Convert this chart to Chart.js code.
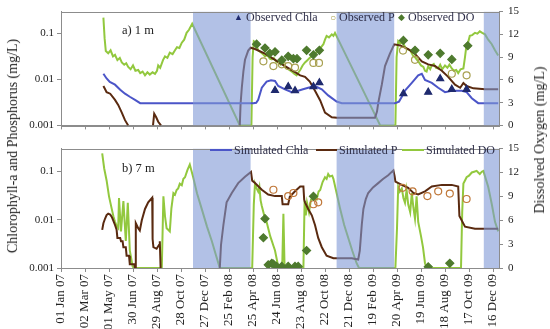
<!DOCTYPE html>
<html>
<head>
<meta charset="utf-8">
<script src="https://cdn.jsdelivr.net/npm/chart.js@4.4.1/dist/chart.umd.min.js"></script>
<style>
  body { margin: 0; background: #fff; }
  #wrap { position: relative; width: 550px; height: 329px; overflow: hidden; font-family: 'Liberation Serif', serif; }
  canvas { position: absolute; left: 0; }
  .vt { position: absolute; white-space: nowrap; font-size: 14px; color: #222;
        transform: translate(-50%, -50%) rotate(-90deg); }
  .lab { position: absolute; white-space: nowrap; font-size: 12.5px; color: #222; transform: translateY(-50%); }
  .leg { position: absolute; white-space: nowrap; font-size: 12px; color: #2e2e48; transform: translateY(-50%); }
  .sw { position: absolute; height: 2px; transform: translateY(-50%); }
</style>
</head>
<body>
<div id="wrap">
  <canvas id="topChart" width="550" height="137" style="top:0"></canvas>
  <canvas id="botChart" width="550" height="192" style="top:137px"></canvas>

  <div class="vt" style="left:13px; top:146px">Chlorophyll-a and Phosphorus (mg/L)</div>
  <div class="vt" style="left:540px; top:140px">Dissolved Oxygen (mg/L)</div>

  <div class="lab" style="left:122px; top:30px">a) 1 m</div>
  <div class="lab" style="left:122px; top:168px">b) 7 m</div>

  <!-- observed legend, panel a -->
  <div class="leg" style="left:234px; top:17px; color:#1f2a6e; font-size:9px">&#9650;</div>
  <div class="leg" style="left:246px; top:17px">Observed Chla</div>
  <div class="leg" style="left:330px; top:17px; color:#a8a050; font-size:10px">&#9675;</div>
  <div class="leg" style="left:339px; top:17px">Observed P</div>
  <div class="leg" style="left:398px; top:17px; color:#4e7a2e; font-size:9px">&#9670;</div>
  <div class="leg" style="left:408px; top:17px">Observed DO</div>

  <!-- simulated legend, panel b -->
  <div class="sw" style="left:210px; top:150px; width:22px; background:#4b55c8"></div>
  <div class="leg" style="left:234px; top:150px">Simulated Chla</div>
  <div class="sw" style="left:316px; top:150px; width:21px; background:#5a2a10"></div>
  <div class="leg" style="left:339px; top:150px">Simulated P</div>
  <div class="sw" style="left:402px; top:150px; width:22px; background:#92c83e"></div>
  <div class="leg" style="left:426px; top:150px">Simulated DO</div>
</div>

<script>
// days counted from 01 Jan 07
const xTicks = [0, 60, 120, 180, 240, 300, 360, 420, 480, 540, 600, 660, 720, 780, 840, 900, 960, 1020, 1080];
const leftTicks = [0.001, 0.01, 0.1];
const icePeriods = [[330, 474], [689, 833], [1057, 1095]];

// ---- a) 1 m ----
const aChlaSim = [[106,0.0133],[114,0.0105],[122,0.0088],[135,0.0077],[148,0.0060],[160,0.0049],[172,0.0042],[185,0.0036],[198,0.00305],
  [481,0.00305],[488,0.0031],[493,0.0036],[502,0.0066],[514,0.0090],[525,0.0096],[535,0.0093],[543,0.0072],[560,0.0061],[577,0.0053],
  [593,0.0057],[605,0.0061],[618,0.0066],[635,0.0072],[652,0.0061],[668,0.0045],[689,0.0033],[702,0.00305],[835,0.00305],[845,0.0033],
  [852,0.0042],[860,0.0057],[877,0.0084],[893,0.0123],[902,0.0133],[910,0.0098],[927,0.0084],[943,0.0066],[960,0.0053],[977,0.0057],
  [1002,0.0057],[1014,0.0053],[1027,0.0039],[1043,0.00305],[1093,0.00305]];
const aPSim = [[106,0.0072],[110,0.0062],[114,0.0053],[123,0.0049],[135,0.0036],[143,0.0028],[152,0.0019],[160,0.0013],[168,0.001],[169,null],
  [230,0.001],[233,0.0018],[238,0.0015],[243,0.0012],[250,0.001],[251,null],
  [447,0.001],[449,0.003],[452,0.0066],[456,0.015],[460,0.0268],[468,0.0425],[474,0.049],[485,0.046],[510,0.0364],[535,0.0268],
  [560,0.0196],[585,0.0144],[598,0.0123],[610,0.0114],[622,0.009],[635,0.0057],[648,0.0035],[660,0.0019],[677,0.0015],[690,0.00147],
  [785,0.00147],[790,0.002],[793,0.00306],[802,0.0077],[810,0.0196],[822,0.036],[833,0.058],[848,0.055],[868,0.046],[885,0.036],
  [902,0.0248],[918,0.0213],[935,0.0196],[952,0.0155],[968,0.0114],[985,0.0077],[998,0.0066],[1006,0.0084],[1014,0.0072],[1031,0.0064],
  [1060,0.0061],[1093,0.0061]];
const aDOSim = [[106,14.2],[109,11.5],[112,9.8],[118,9.5],[124,9.9],[130,9.1],[135,9.3],[141,8.6],[147,8.9],[152,8.3],[158,8.0],[163,8.2],
  [168,7.7],[174,7.4],[180,7.9],[186,7.2],[193,7.3],[198,6.9],[204,7.1],[210,6.6],[216,7.0],[222,6.7],[229,7.0],[235,6.8],[240,7.2],
  [243,7.9],[248,7.6],[255,8.6],[260,9.1],[266,8.9],[272,9.6],[279,9.4],[285,9.9],[290,10.3],[296,10.2],[302,10.9],[308,11.3],[314,12.2],
  [320,12.6],[328,13.4],[447,0],[476,0],[479,9],[482,11.1],[485,11.0],[489,10.5],[493,9.9],[500,9.6],[505,9.4],[510,9.1],[516,9.3],
  [522,8.8],[527,8.7],[532,8.9],[538,8.4],[543,8.3],[549,8.0],[554,8.2],[560,7.7],[565,7.6],[571,7.3],[577,7.1],[583,6.8],[589,6.6],
  [594,7.0],[598,7.3],[604,7.9],[610,8.3],[616,8.6],[622,8.9],[627,9.1],[633,9.4],[638,9.6],[643,9.9],[650,10.3],[656,10.7],[660,11.3],
  [664,11.8],[670,11.6],[677,12.0],[681,11.8],[685,12.2],[798,0],[836,0],[839,9],[843,11.1],[848,10.8],[852,10.9],[856,10.7],[862,10.2],
  [868,10.0],[873,9.9],[880,9.2],[885,9.0],[889,8.7],[895,8.3],[900,7.9],[906,7.7],[910,7.2],[914,7.1],[918,7.8],[923,7.4],[927,7.9],
  [932,8.1],[937,7.6],[943,7.5],[948,8.0],[953,7.4],[960,7.9],[966,7.6],[971,8.0],[977,7.5],[982,7.2],[988,7.3],[993,6.9],[999,7.4],
  [1006,7.5],[1010,9.0],[1014,10.7],[1018,11.0],[1022,11.8],[1028,11.9],[1035,12.2],[1041,12.1],[1047,12.4],[1053,12.2],[1060,12.0],
  [1068,11.3],[1077,10.7],[1085,9.9],[1093,9.2]];
const aChlaObs = [[535,0.0058],[568,0.0070],[585,0.0057],[631,0.0070],[646,0.0085],[856,0.0049],[918,0.0053],[948,0.0104],[977,0.0061],[1014,0.0061]];
const aPObs = [[506,0.0248],[531,0.0196],[552,0.0213],[568,0.0196],[585,0.0181],[631,0.0229],[645,0.0229],[855,0.0425],[885,0.0268],[977,0.0133],[1014,0.0123]];
const aDOObs = [[489,10.7],[510,10.2],[522,9.5],[535,9.7],[552,8.6],[568,9.1],[581,8.8],[590,8.8],[614,9.9],[631,9.3],[646,9.9],
  [856,11.2],[885,9.9],[918,9.3],[948,9.5],[977,8.7],[1017,10.5]];

// ---- b) 7 m ----
const bPSim = [[103,0.0062],[106,0.0085],[110,0.0105],[114,0.0125],[118,0.0134],[123,0.0128],[127,0.0115],[131,0.0095],[135,0.0078],
  [139,0.0062],[141,0.0042],[148,0.0042],[150,0.0036],[154,0.0036],[156,0.0027],[162,0.0027],[164,0.0018],[170,0.0018],[172,0.0012],
  [183,0.0012],[185,0.001],[187,0.0085],[193,0.0067],[197,0.0060],[202,0.0098],[210,0.0168],[218,0.023],[228,0.0287],[229,0.004],
  [231,0.0027],[239,0.0025],[245,0.0030],[247,0.0036],[249,0.001],[250,null],
  [397,0.001],[400,0.003],[406,0.0078],[414,0.023],[427,0.036],[443,0.0576],[460,0.0785],[475,0.0988],[478,0.065],[485,0.058],
  [502,0.042],[518,0.0335],[535,0.031],[552,0.031],[554,0.021],[568,0.021],[572,0.030],[585,0.039],[598,0.049],[606,0.049],[608,0.026],
  [610,0.023],[618,0.0168],[627,0.0124],[635,0.0078],[643,0.0042],[652,0.0027],[664,0.0018],[681,0.0016],[727,0.0016],[743,0.0015],
  [747,0.0023],[752,0.008],[756,0.0168],[762,0.027],[768,0.036],[780,0.047],[793,0.0576],[805,0.07],[818,0.084],[831,0.106],[834,0.08],
  [836,0.062],[852,0.053],[868,0.046],[881,0.036],[893,0.0335],[910,0.039],[927,0.049],[952,0.053],[977,0.053],[993,0.049],[996,0.012],
  [1010,0.0072],[1035,0.0065],[1093,0.0065]];
const bDOSim = [[103,14.4],[108,12.5],[114,11.0],[120,9.0],[127,7.4],[131,6.5],[135,5.8],[140,5.2],[143,5.0],[145,8.8],[150,4.6],[156,8.4],
  [162,3.4],[167,8.2],[172,2.2],[179,0.2],[182,0],[252,0],[256,9.0],[260,6.5],[264,5.0],[268,4.8],[272,4.6],[276,7.5],[281,9.4],[285,9.2],
  [289,9.8],[293,10.0],[297,10.6],[302,10.4],[306,11.2],[310,11.4],[316,12.3],[322,13.0],[330,11.5],[340,9.4],[352,7.4],[365,5.2],
  [377,3.4],[388,1.5],[397,0],[478,0],[482,8],[485,10.6],[489,10.0],[493,9.6],[496,10.2],[499,8.5],[502,7.8],[506,7.0],[510,6.2],
  [514,5.8],[518,5.0],[523,4.0],[527,3.4],[531,2.8],[535,2.2],[539,1.2],[543,0.2],[546,0],[553,0],[556,6.8],[559,0],[606,0],[609,8.4],
  [612,6.6],[615,8.2],[620,7.0],[625,8.6],[632,8.8],[639,8.6],[644,9.6],[648,9.8],[654,10.8],[660,11.4],[664,11.2],[668,11.8],[672,11.5],
  [678,11.6],[681,11.2],[690,9.2],[698,7.4],[708,5.4],[718,3.8],[728,2.2],[739,0.6],[745,0],[836,0],[840,5],[843,10.2],[847,9.6],
  [852,10.0],[856,8.8],[860,8.2],[864,9.8],[868,8.0],[873,7.0],[877,9.4],[881,7.6],[885,6.2],[889,9.0],[893,5.8],[900,4.0],[905,2.6],
  [910,0.6],[914,0],[1000,0],[1003,7],[1006,10.6],[1010,11.0],[1014,11.4],[1020,11.6],[1027,12.0],[1033,12.1],[1039,12.2],[1043,12.0],
  [1047,11.8],[1052,12.1],[1056,12.2],[1062,11.2],[1068,10.2],[1077,8.0],[1085,5.8],[1093,4.6]];
const bPObs = [[531,0.042],[568,0.031],[581,0.036],[631,0.021],[643,0.023],[854,0.046],[879,0.039],[916,0.031],[943,0.039],[972,0.035],[1014,0.027]];
const bDOObs = [[506,3.8],[510,6.2],[518,0.4],[527,0.6],[531,0.5],[539,0.2],[552,0.2],[568,0.2],[585,0.2],[593,0.2],[614,2.2],[631,9.0],[918,0.15],[972,0.6]];

const MONTHS = ['Jan','Feb','Mar','Apr','May','Jun','Jul','Aug','Sep','Oct','Nov','Dec'];
const DAY0 = Date.UTC(2007, 0, 1);
function dayLabel(d) {
  const dt = new Date(DAY0 + d * 86400000);
  return String(dt.getUTCDate()).padStart(2, '0') + ' ' + MONTHS[dt.getUTCMonth()] + ' ' + String(dt.getUTCFullYear()).slice(2);
}
const pts = arr => arr.map(p => ({ x: p[0], y: p[1] }));

const AXIS = '#8c8c8c';
const FONT = 'Liberation Serif';

// blue ice-cover bands drawn over the lines, plus the plot frame
const iceShade = {
  id: 'iceShade',
  afterDatasetsDraw(chart) {
    const { ctx, chartArea: a, scales: { x } } = chart;
    ctx.save();
    ctx.beginPath();
    ctx.rect(a.left, a.top, a.width, a.height);
    ctx.clip();
    ctx.fillStyle = 'rgba(127,152,213,0.6)';
    icePeriods.forEach(([s, e]) => {
      const x0 = x.getPixelForValue(s), x1 = x.getPixelForValue(e);
      ctx.fillRect(x0, a.top, x1 - x0, a.height);
    });
    ctx.restore();
  },
  afterDraw(chart) {
    const { ctx, chartArea: a } = chart;
    ctx.save();
    ctx.strokeStyle = AXIS;
    ctx.lineWidth = 1;
    ctx.strokeRect(Math.round(a.left) + 0.5, Math.round(a.top) + 0.5, Math.round(a.width), Math.round(a.height));
    ctx.restore();
  }
};

function lineSet(data, color, axis) {
  return { type: 'line', data: pts(data), yAxisID: axis, borderColor: color, borderWidth: 2,
           pointRadius: 0, tension: 0, spanGaps: false, order: 2 };
}
function markSet(data, style, color, fill, axis, r) {
  return { type: 'line', data: pts(data), yAxisID: axis, showLine: false, pointStyle: style,
           pointRadius: r, borderColor: color, backgroundColor: fill, borderWidth: 1.2, order: 1 };
}

function makeOptions(showX, xHeight, topPad) {
  return {
    responsive: false,
    animation: false,
    layout: { padding: { top: topPad, left: 0, right: 0, bottom: 0 } },
    plugins: { legend: { display: false }, tooltip: { enabled: false } },
    scales: {
      x: {
        type: 'linear', min: 0, max: 1095,
        afterBuildTicks: s => { s.ticks = xTicks.map(v => ({ value: v })); },
        afterFit: s => { s.height = xHeight; },
        grid: { drawOnChartArea: false, drawTicks: true, tickLength: 4, color: AXIS },
        border: { color: AXIS },
        ticks: { display: showX, autoSkip: false, minRotation: 90, maxRotation: 90, padding: 2,
                 color: '#222', font: { family: FONT, size: 13 }, callback: v => dayLabel(v) }
      },
      yL: {
        type: 'logarithmic', position: 'left', min: 0.001, max: 0.3,
        afterBuildTicks: s => { s.ticks = leftTicks.map(v => ({ value: v })); },
        afterFit: s => { s.width = 61; },
        grid: { drawOnChartArea: false, drawTicks: true, tickLength: 4, color: AXIS },
        border: { color: AXIS },
        ticks: { color: '#222', padding: 3, font: { family: FONT, size: 11 }, callback: v => String(v) }
      },
      yR: {
        type: 'linear', position: 'right', min: 0, max: 15,
        afterBuildTicks: s => { s.ticks = [0, 3, 6, 9, 12, 15].map(v => ({ value: v })); },
        afterFit: s => { s.width = 51; },
        grid: { drawOnChartArea: false, drawTicks: true, tickLength: 4, color: AXIS },
        border: { color: AXIS },
        ticks: { color: '#222', padding: 5, font: { family: FONT, size: 11 } }
      }
    }
  };
}

new Chart(document.getElementById('topChart'), {
  type: 'line',
  data: {
    datasets: [
      markSet(aChlaObs, 'triangle', '#1f2a6e', '#1f2a6e', 'yL', 4),
      markSet(aDOObs, 'rectRot', '#4e7a2e', '#4e7a2e', 'yR', 4),
      markSet(aPObs, 'circle', '#a8a050', 'rgba(0,0,0,0)', 'yL', 3.5),
      lineSet(aChlaSim, '#4b55c8', 'yL'),
      lineSet(aPSim, '#5a2a10', 'yL'),
      lineSet(aDOSim, '#92c83e', 'yR')
    ]
  },
  options: makeOptions(false, 8, 7),
  plugins: [iceShade]
});

new Chart(document.getElementById('botChart'), {
  type: 'line',
  data: {
    datasets: [
      markSet(bDOObs, 'rectRot', '#4e7a2e', '#4e7a2e', 'yR', 4),
      markSet(bPObs, 'circle', '#c0783a', 'rgba(0,0,0,0)', 'yL', 3.5),
      lineSet(bPSim, '#5a2a10', 'yL'),
      lineSet(bDOSim, '#92c83e', 'yR')
    ]
  },
  options: makeOptions(true, 61, 6),
  plugins: [iceShade]
});
</script>
</body>
</html>
